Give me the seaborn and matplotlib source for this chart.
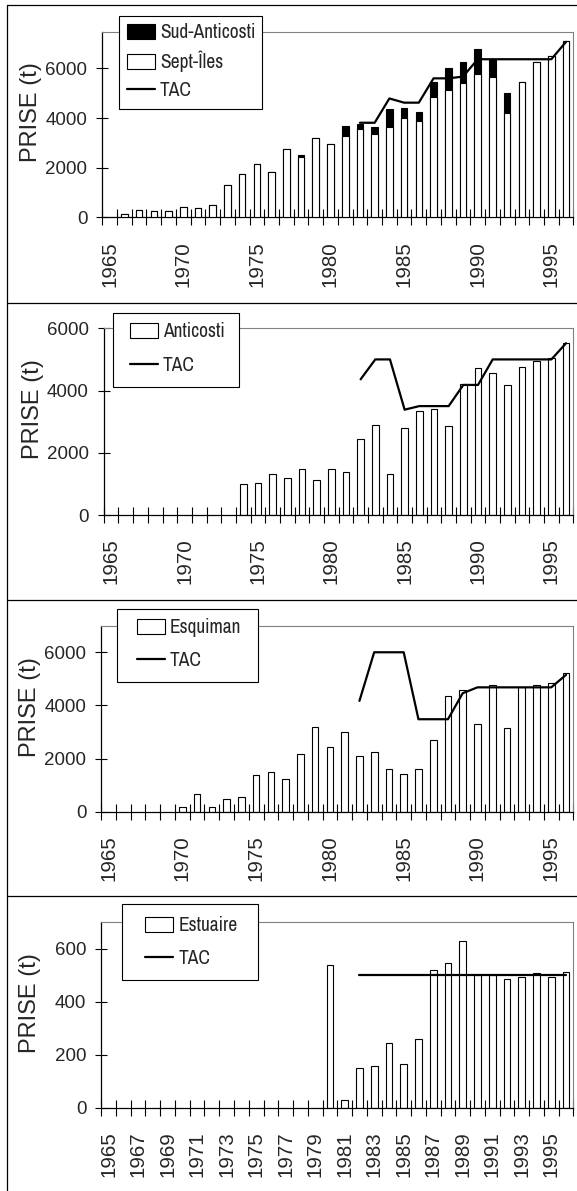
import numpy as np
import pandas as pd
import matplotlib
matplotlib.use("Agg")
import matplotlib.pyplot as plt
import seaborn as sns
from matplotlib.patches import Patch, Rectangle
from matplotlib.lines import Line2D
from matplotlib.font_manager import FontProperties

nan = np.nan
years = list(range(1965, 1997))

# Panel 1 : Nord (Sept-Îles + Sud-Anticosti)
sept_iles = [nan, 130, 295, 240, 240, 430, 360, 480, 1290, 1730, 2130, 1825, 2750, 2440,
             3200, 2940, 3290, 3540, 3340, 3650, 4010, 3890, 4860, 5125, 5400, 5760,
             5660, 4190, 5470, 6270, 6500, 7110]
sud_anticosti = [nan] * 13 + [90, nan, nan, 400, 215, 285, 710, 405, 340, 575, 875, 870,
                              1040, 700, 800, nan, nan, nan, nan]
tac_nord = [nan] * 17 + [3810, 3810, 4790, 4620, 4620, 5600, 5600, 5670, 6370, 6370, 6370,
                         6370, 6370, 6370, 7070]

# Panel 2 : Anticosti
anticosti = [nan] * 9 + [985, 1020, 1330, 1190, 1480, 1135, 1480, 1370, 2440, 2890, 1330,
                         2800, 3330, 3420, 2850, 4220, 4710, 4560, 4180, 4750, 4950, 5060, 5540]
tac_anticosti = [nan] * 17 + [4360, 5000, 5000, 3385, 3500, 3500, 3500, 4180, 4180, 5000,
                              5000, 5000, 5000, 5000, 5520]

# Panel 3 : Esquiman
esquiman = [nan] * 5 + [165, 665, 165, 490, 565, 1370, 1480, 1240, 2160, 3200, 2450, 3010,
                        2110, 2230, 1590, 1420, 1590, 2690, 4360, 4580, 3310, 4760, 3140,
                        4680, 4760, 4860, 5220]
tac_esquiman = [nan] * 17 + [4170, 6000, 6000, 6000, 3480, 3480, 3480, 4460, 4680, 4680,
                             4680, 4680, 4680, 4680, 5150]

# Panel 4 : Estuaire
estuaire = [nan] * 15 + [537, 29, 149, 159, 245, 165, 261, 521, 547, 629, 502, 502, 485,
                         494, 507, 494, 514]
tac_estuaire = [nan] * 17 + [500] * 15

labels_5 = [1965, 1970, 1975, 1980, 1985, 1990, 1995]
labels_2 = list(range(1965, 1997, 2))

sns.set_style("white")
plt.rcParams["font.family"] = ["Liberation Sans", "DejaVu Sans"]

W, H = 577, 1191
fig = plt.figure(figsize=(W / 100, H / 100), dpi=100)
fig.patch.set_facecolor("white")

leg_font = FontProperties(family="Archivo Narrow", size=14)


def add_axes(left, right, top, bottom):
    return fig.add_axes([left / W, 1 - bottom / H, (right - left) / W, (bottom - top) / H])


def bars(ax, values, color, zorder=2):
    df = pd.DataFrame({"year": years, "val": values}).dropna()
    sns.barplot(data=df, x="year", y="val", native_scale=True, width=0.45,
                color=color, saturation=1, edgecolor="black", linewidth=0.8,
                errorbar=None, ax=ax, zorder=zorder)


def tac_line(ax, values):
    df = pd.DataFrame({"year": years, "tac": values}).dropna()
    sns.lineplot(data=df, x="year", y="tac", color="black", linewidth=1.6, ax=ax, zorder=4)


def style(ax, ymax, yticks, label_years):
    ax.set_xlim(1964.5, 1996.5)
    ax.set_ylim(0, ymax)
    ax.set_xticks(np.arange(1964.5, 1997, 1.0))
    ax.set_xticklabels([])
    ax.set_xticks(label_years, minor=True)
    ax.set_xticklabels([str(y) for y in label_years], minor=True)
    ax.tick_params(axis="x", which="major", direction="inout", length=11, width=0.8,
                   color="black", bottom=True)
    ax.tick_params(axis="x", which="minor", length=0, pad=17, labelsize=14.8,
                   labelrotation=90, bottom=True)
    ax.set_yticks(yticks)
    ax.set_yticklabels([str(v) for v in yticks])
    ax.tick_params(axis="y", direction="inout", length=8.4, width=0.8, pad=6.5,
                   labelsize=13.5, left=True, color="black")
    ax.set_xlabel("")
    ax.set_ylabel("PRISE (t)", fontsize=17)
    ax.yaxis.label.set_verticalalignment("center")
    ax.yaxis.label.set_rotation_mode("anchor")
    ax.yaxis.set_label_coords(-0.151, 0.565)
    for s in ["top", "right"]:
        ax.spines[s].set_color("#808080")
        ax.spines[s].set_linewidth(0.8)
    for s in ["left", "bottom"]:
        ax.spines[s].set_color("black")
        ax.spines[s].set_linewidth(0.9)
    ax.grid(False)


def legend(handles, labels, box, anchor, spacing, textpad):
    x0, x1, y0, y1 = box
    fig.add_artist(Rectangle((x0 / W, 1 - y1 / H), (x1 - x0) / W, (y1 - y0) / H,
                             transform=fig.transFigure, facecolor="white",
                             edgecolor="black", linewidth=0.8, zorder=4))
    leg = fig.legend(handles, labels, loc="center left",
                     bbox_to_anchor=(anchor[0] / W, 1 - anchor[1] / H),
                     bbox_transform=fig.transFigure, frameon=False, prop=leg_font,
                     borderpad=0, borderaxespad=0, handlelength=1.42, handleheight=0.78,
                     handletextpad=textpad, labelspacing=spacing)
    leg.set_zorder(6)


black_patch = Patch(facecolor="black", edgecolor="black", linewidth=0.8)
white_patch = Patch(facecolor="white", edgecolor="black", linewidth=0.8)
tac_handle = Line2D([], [], color="black", linewidth=1.6)

# ---- Panel 1
ax1 = add_axes(102.3, 573.4, 31.7, 217.3)
total_nord = [s + (0 if np.isnan(a) else a) for s, a in zip(sept_iles, sud_anticosti)]
bars(ax1, total_nord, "black")
bars(ax1, sept_iles, "white", zorder=3)
tac_line(ax1, tac_nord)
style(ax1, 7480, [0, 2000, 4000, 6000], labels_5)
legend([black_patch, white_patch, tac_handle], ["Sud-Anticosti", "Sept-Îles", "TAC"],
       (118.9, 262.1, 16, 109), (127, 61.5), 0.45, 0.28)

# ---- Panel 2
ax2 = add_axes(103.8, 573.4, 328.3, 515)
bars(ax2, anticosti, "white")
tac_line(ax2, tac_anticosti)
style(ax2, 6000, [0, 2000, 4000, 6000], labels_5)
legend([white_patch, tac_handle], ["Anticosti", "TAC"],
       (113.4, 239.2, 313, 387), (130, 348.5), 0.75, 0.28)

# ---- Panel 3
ax3 = add_axes(101.2, 573.4, 625.7, 811.7)
bars(ax3, esquiman, "white")
tac_line(ax3, tac_esquiman)
style(ax3, 7000, [0, 2000, 4000, 6000], labels_5)
legend([white_patch, tac_handle], ["Esquiman", "TAC"],
       (117, 258.4, 609, 682), (136.9, 644.3), 0.72, 0.25)

# ---- Panel 4
ax4 = add_axes(101.2, 573.4, 922.3, 1107.7)
bars(ax4, estuaire, "white")
tac_line(ax4, tac_estuaire)
style(ax4, 700, [0, 200, 400, 600], labels_2)
legend([white_patch, tac_handle], ["Estuaire", "TAC"],
       (121.5, 258.4, 904, 980), (145.4, 942.3), 0.72, 0.28)

# ---- panel frames
for ytop in [5, 302.5, 600, 896]:
    fig.add_artist(Line2D([7.3 / W, 1.0], [1 - ytop / H, 1 - ytop / H],
                          transform=fig.transFigure, color="black", linewidth=0.9))
fig.add_artist(Line2D([7.3 / W, 7.3 / W], [1 - 5 / H, 0.0],
                      transform=fig.transFigure, color="black", linewidth=0.9))

fig.savefig("out.png", dpi=100, facecolor="white")
